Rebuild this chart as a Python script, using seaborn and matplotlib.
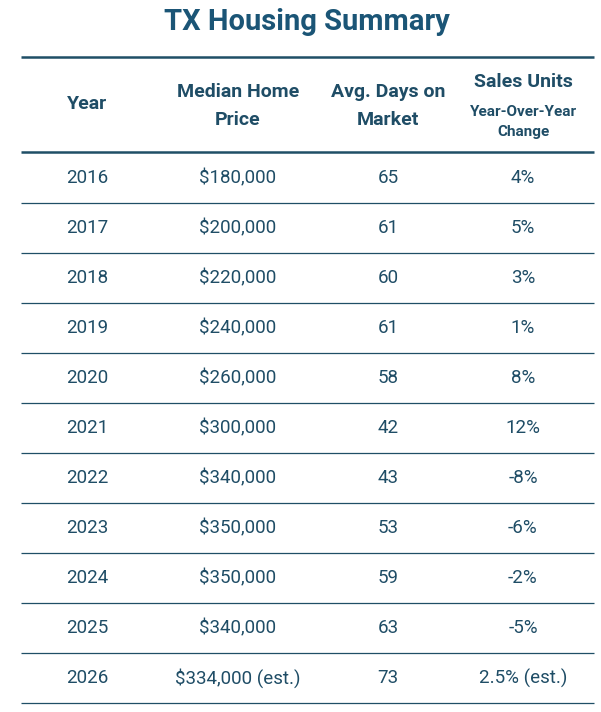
import matplotlib
matplotlib.use("Agg")
import matplotlib.pyplot as plt
import seaborn as sns

# table data
years = ["2016", "2017", "2018", "2019", "2020", "2021", "2022", "2023", "2024", "2025", "2026"]
median_price = ["$180,000", "$200,000", "$220,000", "$240,000", "$260,000", "$300,000",
                "$340,000", "$350,000", "$350,000", "$340,000", "$334,000 (est.)"]
days_on_market = ["65", "61", "60", "61", "58", "42", "43", "53", "59", "63", "73"]
sales_yoy = ["4%", "5%", "3%", "1%", "8%", "12%", "-8%", "-6%", "-2%", "-5%", "2.5% (est.)"]

title = "TX Housing Summary"
headers = ["Year", "Median Home\nPrice", "Avg. Days on\nMarket"]
sales_head = "Sales Units"
sales_sub = "Year-Over-Year\nChange"

sns.set_theme(style="white")
plt.rcParams['font.family'] = ['Roboto', 'DejaVu Sans']

TITLE_C = "#1b5576"
TEXT_C = "#1f4d66"
LINE_C = "#1f4f66"

fig = plt.figure(figsize=(6.01, 7.12), dpi=100)
ax = fig.add_axes([0, 0, 1, 1])
ax.set_xlim(0, 601)
ax.set_ylim(712, 0)
ax.axis("off")

col_x = [87, 238, 388, 523]
row0, row_h = 178, 50

ax.text(307, 22, title, ha="center", va="center", fontsize=21,
        fontweight="bold", color=TITLE_C)

# header
ax.text(col_x[0], 104, headers[0], ha="center", va="center", fontsize=14,
        fontweight="bold", color=TEXT_C)
for i in (1, 2):
    ax.text(col_x[i], 106, headers[i], ha="center", va="center", fontsize=14,
            fontweight="bold", color=TEXT_C, linespacing=1.75)
ax.text(col_x[3], 82, sales_head, ha="center", va="center", fontsize=14,
        fontweight="bold", color=TEXT_C)
ax.text(col_x[3], 122, sales_sub, ha="center", va="center", fontsize=11,
        fontweight="bold", color=TEXT_C, linespacing=1.55)

# rules
ax.plot([21, 594], [57, 57], color=LINE_C, lw=1.8, solid_capstyle="butt")
ax.plot([21, 594], [152, 152], color=LINE_C, lw=1.8, solid_capstyle="butt")

for r, vals in enumerate(zip(years, median_price, days_on_market, sales_yoy)):
    y = row0 + r * row_h
    for x, v in zip(col_x, vals):
        ax.text(x, y, v, ha="center", va="center", fontsize=13.5, color=TEXT_C)
    ax.plot([21, 594], [y + 24.5, y + 24.5], color=LINE_C, lw=0.9,
            solid_capstyle="butt")

fig.savefig("out.png", dpi=100, facecolor="white")
